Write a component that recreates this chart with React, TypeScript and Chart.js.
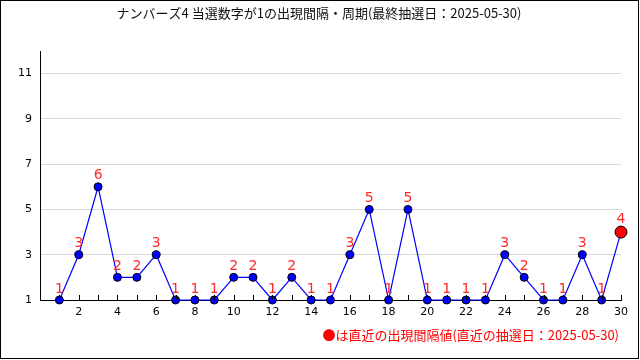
import React, { useEffect, useRef } from "react";
import { Chart, registerables } from "chart.js";

Chart.register(...registerables);

const TITLE = "ナンバーズ4 当選数字が1の出現間隔・周期(最終抽選日：2025-05-30)";
const NOTE = "●は直近の出現間隔値(直近の抽選日：2025-05-30)";
const drawIndex: number[] = [1, 2, 3, 4, 5, 6, 7, 8, 9, 10, 11, 12, 13, 14, 15, 16, 17, 18, 19, 20, 21, 22, 23, 24, 25, 26, 27, 28, 29, 30];
const intervals: number[] = [1, 3, 6, 2, 2, 3, 1, 1, 1, 2, 2, 1, 2, 1, 1, 3, 5, 1, 5, 1, 1, 1, 1, 3, 2, 1, 1, 3, 1, 4];
const yTickValues: number[] = [1, 3, 5, 7, 9, 11];
const X_MIN = 0;
const X_MAX = 30;
const Y_MIN = 1;
const Y_MAX = 12;

const LABEL_RED = "#ff2a2a";

export default function App() {
  const ref = useRef<HTMLCanvasElement | null>(null);

  useEffect(() => {
    document.body.style.margin = "0";
    const canvas = ref.current;
    if (!canvas) return;
    const last = intervals.length - 1;

    const decor = {
      id: "decor",
      afterDatasetsDraw(chart: any) {
        const ctx = chart.ctx;
        const meta = chart.getDatasetMeta(0);
        ctx.save();
        ctx.fillStyle = LABEL_RED;
        ctx.font = '14px "DejaVu Sans", sans-serif';
        ctx.textAlign = "center";
        ctx.textBaseline = "middle";
        meta.data.forEach((el: any, i: number) => {
          const off = i === last ? 13 : 11;
          ctx.fillText(String(intervals[i]), el.x, el.y - off);
        });
        ctx.restore();
      },
      afterDraw(chart: any) {
        const ctx = chart.ctx;
        const xs = chart.scales.x;
        const area = chart.chartArea;
        ctx.save();
        ctx.strokeStyle = "#000";
        ctx.lineWidth = 1;
        ctx.beginPath();
        for (let v = X_MIN + 1; v <= X_MAX; v++) {
          const px = Math.round(xs.getPixelForValue(v)) + 0.5;
          ctx.moveTo(px, area.bottom);
          ctx.lineTo(px, area.bottom - 5);
        }
        ctx.stroke();
        ctx.fillStyle = "#111";
        ctx.font = '13px "Noto Sans CJK JP", sans-serif';
        ctx.textAlign = "center";
        ctx.textBaseline = "middle";
        ctx.fillText(TITLE, 319, 13);
        ctx.fillStyle = "#ff0000";
        ctx.textAlign = "right";
        ctx.fillText(NOTE, 619, 335);
        ctx.strokeStyle = "#000";
        ctx.strokeRect(0.5, 0.5, 638, 358);
        ctx.restore();
      },
    };

    const chart = new Chart(canvas, {
      type: "line",
      data: {
        datasets: [
          {
            data: drawIndex.map((x, i) => ({ x, y: intervals[i] })),
            borderColor: "#0000ff",
            borderWidth: 1.2,
            clip: false,
            pointBackgroundColor: intervals.map((_, i) => (i === last ? "#ff0000" : "#0000ff")),
            pointBorderColor: "#000",
            pointBorderWidth: 1,
            pointRadius: intervals.map((_, i) => (i === last ? 6 : 4)),
            tension: 0,
          },
        ],
      },
      options: {
        responsive: false,
        animation: false,
        layout: { padding: { left: 0, right: 19, top: 51, bottom: 36 } },
        plugins: { legend: { display: false }, title: { display: false }, tooltip: { enabled: false } },
        scales: {
          x: {
            type: "linear",
            min: X_MIN,
            max: X_MAX,
            ticks: {
              stepSize: 1,
              autoSkip: false,
              maxRotation: 0,
              padding: 6,
              color: "#000",
              font: { family: '"DejaVu Sans", sans-serif', size: 11 },
              callback: (v: any) => (Number(v) > 0 && Number(v) % 2 === 0 ? String(v) : ""),
            },
            grid: { display: true, drawOnChartArea: false, drawTicks: false, color: "#000" },
            border: { display: true, color: "#000", width: 1 },
            afterFit: (s: any) => {
              s.height = 24;
            },
          },
          y: {
            type: "linear",
            min: Y_MIN,
            max: Y_MAX,
            afterBuildTicks: (s: any) => {
              s.ticks = yTickValues.map((value) => ({ value }));
            },
            ticks: {
              padding: 8,
              color: "#000",
              font: { family: '"DejaVu Sans", sans-serif', size: 11 },
            },
            grid: { color: "#d9d9d9", drawTicks: false },
            border: { display: true, color: "#000", width: 1 },
            afterFit: (s: any) => {
              s.width = 40;
            },
          },
        },
      },
      plugins: [decor],
    });

    return () => chart.destroy();
  }, []);

  return <canvas ref={ref} width={640} height={360} style={{ display: "block", width: 640, height: 360 }} />;
}
